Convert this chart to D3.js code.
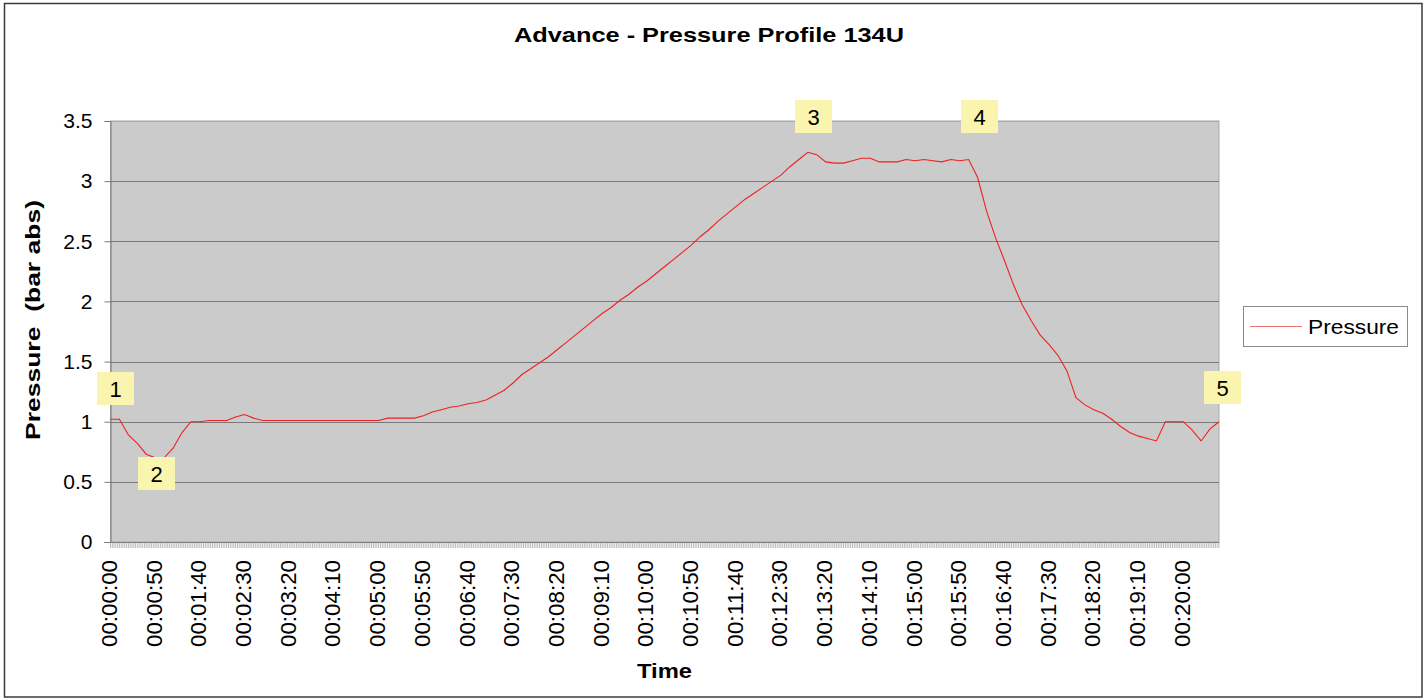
<!DOCTYPE html>
<html><head><meta charset="utf-8">
<script src="https://cdn.jsdelivr.net/npm/d3@7"></script>
<style>body{margin:0;background:#fff}svg{display:block;font-family:Arial,"Liberation Sans",sans-serif}</style>
</head><body><svg id="c" width="1427" height="699"></svg>
<script>
// elapsed seconds (every 10 s)
const seconds = d3.range(0, 1241, 10);
// pressure, bar abs
const pressure = [
 1.02,1.02,0.89,0.82,0.73,0.70,0.70,0.78,0.91,1.00,
 1.00,1.01,1.01,1.01,1.04,1.06,1.03,1.01,1.01,1.01,
 1.01,1.01,1.01,1.01,1.01,1.01,1.01,1.01,1.01,1.01,
 1.01,1.03,1.03,1.03,1.03,1.05,1.08,1.10,1.12,1.13,
 1.15,1.16,1.18,1.22,1.26,1.32,1.39,1.44,1.49,1.54,
 1.60,1.66,1.72,1.78,1.84,1.90,1.95,2.01,2.06,2.12,
 2.17,2.23,2.29,2.35,2.41,2.47,2.54,2.60,2.67,2.73,
 2.79,2.85,2.90,2.95,3.00,3.05,3.12,3.18,3.24,3.22,
 3.16,3.15,3.15,3.17,3.19,3.19,3.16,3.16,3.16,3.18,
 3.17,3.18,3.17,3.16,3.18,3.17,3.18,3.03,2.75,2.53,
 2.34,2.14,1.97,1.84,1.72,1.64,1.55,1.42,1.20,1.14,
 1.10,1.07,1.02,0.96,0.91,0.88,0.86,0.84,1.00,1.00,
 1.00,0.93,0.84,0.94,1.00
];
const yTicks = [0,0.5,1,1.5,2,2.5,3,3.5];
const xLabelSeconds = d3.range(0, 1201, 50);
const annotations = [
 {label:"1", t:0, v:1.02},
 {label:"2", t:50, v:0.70},
 {label:"3", t:780, v:3.24},
 {label:"4", t:960, v:3.18},
 {label:"5", t:1240, v:1.00}
];
const seriesName = "Pressure";
const title = "Advance - Pressure Profile 134U";

const fmt = s => {
  const h = Math.floor(s/3600), m = Math.floor((s%3600)/60), ss = s%60;
  return [h,m,ss].map(v => String(v).padStart(2,"0")).join(":");
};

const svg = d3.select("#c");
const L=110.5, R=1219, T=121, B=542;
const x = d3.scaleLinear().domain([0,1240]).range([L,R]);
const y = d3.scaleLinear().domain([0,3.5]).range([B,T]);

svg.append("rect").attr("x",4.5).attr("y",3.5).attr("width",1417.5).attr("height",693.5)
  .attr("fill","#fff").attr("stroke","#3a3a3a").attr("stroke-width",1.5);

svg.append("text").attr("x",709).attr("y",42).attr("text-anchor","middle")
  .attr("font-size",21).attr("font-weight","bold")
  .attr("textLength",390).attr("lengthAdjust","spacingAndGlyphs").text(title);

svg.append("rect").attr("x",L).attr("y",T).attr("width",R-L).attr("height",B-T)
  .attr("fill","#cbcbcb").attr("stroke","#a8a8a8").attr("stroke-width",1);

// grid
svg.append("g").selectAll("line").data(yTicks.filter(d=>d>0)).join("line")
  .attr("x1",L).attr("x2",R).attr("y1",d=>Math.round(y(d))+0.5).attr("y2",d=>Math.round(y(d))+0.5)
  .attr("stroke",d=>d===3.5?"#a8a8a8":"#7a7a7a").attr("stroke-width",1.2);

// y axis
const ya = svg.append("g").attr("transform",`translate(${L},0)`)
  .call(d3.axisLeft(y).tickValues(yTicks).tickSize(6).tickPadding(12).tickFormat(d3.format("")));
ya.select(".domain").attr("stroke","#7a7a7a");
ya.selectAll(".tick line").attr("stroke","#7a7a7a");
ya.selectAll("text").attr("font-size",21).attr("fill","#000").attr("font-family","Arial, Liberation Sans, sans-serif");

// x axis baseline
svg.append("line").attr("x1",L-6).attr("x2",R).attr("y1",B+0.5).attr("y2",B+0.5).attr("stroke","#7a7a7a").attr("stroke-width",1.2);
// minor ticks (one per 2 s sample)
svg.append("g").selectAll("line").data(d3.range(0,1241,2)).join("line")
  .attr("x1",d=>x(d)).attr("x2",d=>x(d)).attr("y1",B).attr("y2",B+6)
  .attr("stroke","#8a8a8a").attr("stroke-width",0.6);

// x labels
svg.append("g").selectAll("text").data(xLabelSeconds).join("text")
  .attr("transform",d=>`translate(${x(d)+6.5},560) rotate(-90)`)
  .attr("text-anchor","end").attr("font-size",22)
  .attr("textLength",87).attr("lengthAdjust","spacingAndGlyphs").text(fmt);

// axis titles
svg.append("text").attr("transform","translate(40,320) rotate(-90)").attr("text-anchor","middle")
  .attr("font-size",21).attr("font-weight","bold").style("white-space","pre")
  .attr("textLength",240).attr("lengthAdjust","spacingAndGlyphs").text("Pressure  (bar abs)");
svg.append("text").attr("x",664.5).attr("y",678).attr("text-anchor","middle")
  .attr("font-size",21).attr("font-weight","bold")
  .attr("textLength",55).attr("lengthAdjust","spacingAndGlyphs").text("Time");

// line
const data = seconds.map((s,i)=>({t:s,v:pressure[i]}));
svg.append("path").datum(data).attr("fill","none").attr("stroke","#f02020").attr("stroke-width",1.1)
  .attr("d",d3.line().x(d=>x(d.t)).y(d=>y(d.v)));

// annotation boxes
const boxPos = {"1":[97,372],"2":[138,457],"3":[795,100],"4":[961,100],"5":[1204,371]};
const ag = svg.append("g");
annotations.forEach(a=>{
  const [bx,by] = boxPos[a.label];
  ag.append("rect").attr("x",bx).attr("y",by).attr("width",37).attr("height",33).attr("fill","#f9f5ae");
  ag.append("text").attr("x",bx+18.5).attr("y",by+24.5).attr("text-anchor","middle").attr("font-size",22).text(a.label);
});

// legend
const lg = svg.append("g");
lg.append("rect").attr("x",1243.5).attr("y",306.5).attr("width",164).attr("height",40).attr("fill","#fff").attr("stroke","#8a8a8a");
lg.append("line").attr("x1",1250).attr("x2",1302).attr("y1",326.5).attr("y2",326.5).attr("stroke","#f07070").attr("stroke-width",1);
lg.append("text").attr("x",1308).attr("y",334).attr("font-size",21)
  .attr("textLength",91).attr("lengthAdjust","spacingAndGlyphs").text(seriesName);
</script></body></html>
